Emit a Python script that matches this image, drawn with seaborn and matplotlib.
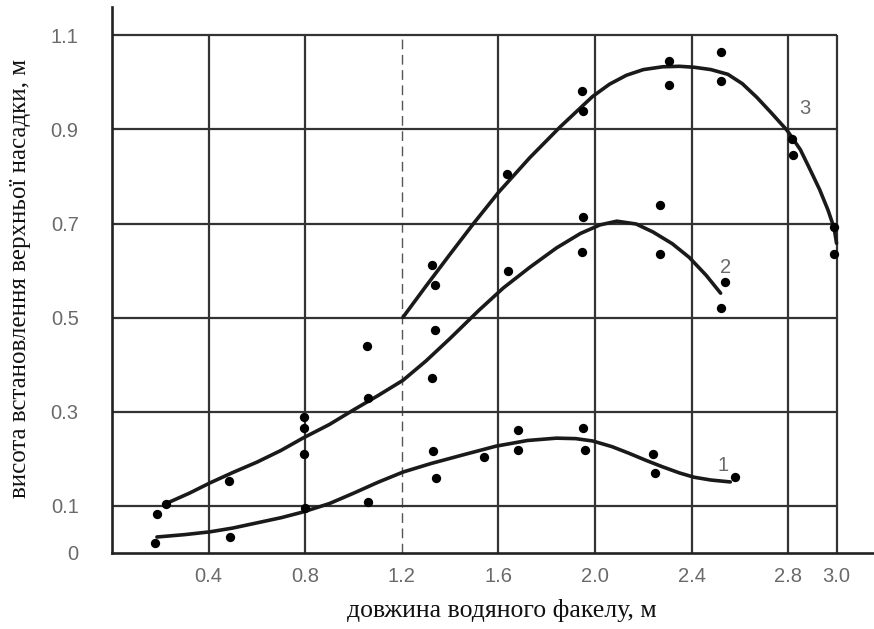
import matplotlib
matplotlib.use("Agg")
import matplotlib.pyplot as plt
import seaborn as sns
import pandas as pd

# ---- data ----
# scatter points
pts1_x = [0.18, 0.49, 0.80, 1.06, 1.33, 1.34, 1.54, 1.68, 1.68, 1.95, 1.96, 2.24, 2.25, 2.58]
pts1_y = [0.021, 0.034, 0.096, 0.108, 0.217, 0.159, 0.204, 0.261, 0.219, 0.265, 0.219, 0.21, 0.17, 0.161]

pts2_x = [0.186, 0.224, 0.484, 0.795, 0.795, 0.795, 1.06, 1.056, 1.325, 1.337, 1.64, 1.95, 1.946, 2.27, 2.27, 2.54, 2.52]
pts2_y = [0.083, 0.104, 0.153, 0.289, 0.265, 0.21, 0.329, 0.44, 0.372, 0.473, 0.599, 0.713, 0.639, 0.739, 0.635, 0.575, 0.52]

pts3_x = [1.325, 1.337, 1.636, 1.946, 1.95, 2.306, 2.306, 2.52, 2.52, 2.816, 2.82, 2.99, 2.99]
pts3_y = [0.611, 0.569, 0.805, 0.981, 0.938, 1.045, 0.994, 1.064, 1.002, 0.879, 0.845, 0.692, 0.635]

# fitted curves
curve1_x = [0.186, 0.30, 0.406, 0.50, 0.60, 0.70, 0.79, 0.90, 1.00, 1.10, 1.205, 1.32, 1.45, 1.59,
            1.72, 1.84, 1.92, 1.99, 2.07, 2.14, 2.21, 2.28, 2.35, 2.41, 2.48, 2.56]
curve1_y = [0.034, 0.039, 0.045, 0.053, 0.064, 0.075, 0.087, 0.105, 0.127, 0.150, 0.172, 0.190, 0.208,
            0.227, 0.239, 0.244, 0.243, 0.238, 0.226, 0.212, 0.197, 0.183, 0.170, 0.161, 0.155, 0.151]

curve2_x = [0.228, 0.32, 0.406, 0.50, 0.60, 0.70, 0.79, 0.90, 1.00, 1.10, 1.205, 1.30, 1.40, 1.52,
            1.62, 1.73, 1.84, 1.94, 2.02, 2.09, 2.17, 2.24, 2.32, 2.39, 2.46, 2.52]
curve2_y = [0.106, 0.127, 0.149, 0.171, 0.193, 0.218, 0.244, 0.273, 0.304, 0.334, 0.367, 0.408, 0.456,
            0.516, 0.563, 0.607, 0.648, 0.679, 0.697, 0.705, 0.699, 0.682, 0.657, 0.628, 0.590, 0.552]

curve3_x = [1.205, 1.30, 1.40, 1.50, 1.60, 1.73, 1.855, 1.99, 2.06, 2.13, 2.20, 2.28, 2.35, 2.41,
            2.48, 2.55, 2.61, 2.67, 2.73, 2.795, 2.85, 2.89, 2.93, 2.965, 2.99, 3.0]
curve3_y = [0.501, 0.567, 0.635, 0.702, 0.766, 0.840, 0.905, 0.970, 0.996, 1.015, 1.027, 1.033, 1.034,
            1.032, 1.027, 1.017, 0.997, 0.968, 0.935, 0.898, 0.857, 0.815, 0.772, 0.728, 0.690, 0.658]

curve_labels = ["1", "2", "3"]
label_x = [2.53, 2.54, 2.87]
label_y = [0.185, 0.607, 0.945]

x_ticks = [0.4, 0.8, 1.2, 1.6, 2.0, 2.4, 2.8, 3.0]
x_tick_labels = ["0.4", "0.8", "1.2", "1.6", "2.0", "2.4", "2.8", "3.0"]
y_ticks = [0, 0.1, 0.3, 0.5, 0.7, 0.9, 1.1]
y_tick_labels = ["0", "0.1", "0.3", "0.5", "0.7", "0.9", "1.1"]
dashed_x = 1.2

xlabel = "довжина водяного факелу, м"
ylabel = "висота встановлення верхньої насадки, м"

# ---- build frames ----
pts = pd.DataFrame({
    "x": pts1_x + pts2_x + pts3_x,
    "y": pts1_y + pts2_y + pts3_y,
})
curves = pd.DataFrame({
    "x": curve1_x + curve2_x + curve3_x,
    "y": curve1_y + curve2_y + curve3_y,
    "c": ["1"] * len(curve1_x) + ["2"] * len(curve2_x) + ["3"] * len(curve3_x),
})

sns.set_style("white")
plt.rcParams["font.family"] = ["Liberation Sans", "DejaVu Sans"]

fig = plt.figure(figsize=(8.74, 6.29), dpi=100)
ax = fig.add_axes([112 / 874, 1 - 553 / 629, 1 - 112 / 874, (553 - 7) / 629])

ax.set_xlim(0, 3.155)
ax.set_ylim(0, 1.16)

grid_col = "#333333"
solid_x = [v for v in x_ticks if v != dashed_x]
ax.vlines(solid_x, 0, y_ticks[-1], colors=grid_col, linewidth=1.6, zorder=1)
ax.vlines([dashed_x], 0, y_ticks[-1], colors="#555555", linewidth=1.0,
          linestyles=(0, (7, 4)), zorder=1)
ax.hlines([v for v in y_ticks if v > 0], 0, x_ticks[-1], colors=grid_col,
          linewidth=1.6, zorder=1)

sns.lineplot(data=curves, x="x", y="y", units="c", estimator=None, sort=False,
             color="#1a1a1a", linewidth=2.6, ax=ax, zorder=3)
sns.scatterplot(data=pts, x="x", y="y", color="black", s=45, linewidth=0,
                ax=ax, zorder=4)

for t, lx, ly in zip(curve_labels, label_x, label_y):
    ax.text(lx, ly, t, fontsize=14.5, color="#6a6a6a", ha="center", va="center",
            zorder=5)

for s in ["top", "right"]:
    ax.spines[s].set_visible(False)
for s in ["left", "bottom"]:
    ax.spines[s].set_color("#222222")
    ax.spines[s].set_linewidth(1.9)

ax.set_xticks(x_ticks)
ax.set_xticklabels(x_tick_labels)
ax.set_yticks(y_ticks)
ax.set_yticklabels(y_tick_labels)
ax.tick_params(axis="both", length=0, labelsize=14.5, labelcolor="#6a6a6a")
ax.tick_params(axis="x", pad=10)
ax.tick_params(axis="y", pad=24)

serif = ["Liberation Serif", "DejaVu Serif"]
ax.set_xlabel(xlabel, fontsize=18.5, family=serif, color="#111111")
ax.set_ylabel(ylabel, fontsize=18, family=serif, color="#111111")
ax.xaxis.set_label_coords((502 - 112) / (874 - 112), -(610 - 553) / (553 - 7))
ax.yaxis.set_label_coords(-(112 - 20) / (874 - 112), (553 - 278) / (553 - 7))
ax.xaxis.label.set_va("center")
ax.yaxis.label.set_va("center")

fig.savefig("out.png", dpi=100)
